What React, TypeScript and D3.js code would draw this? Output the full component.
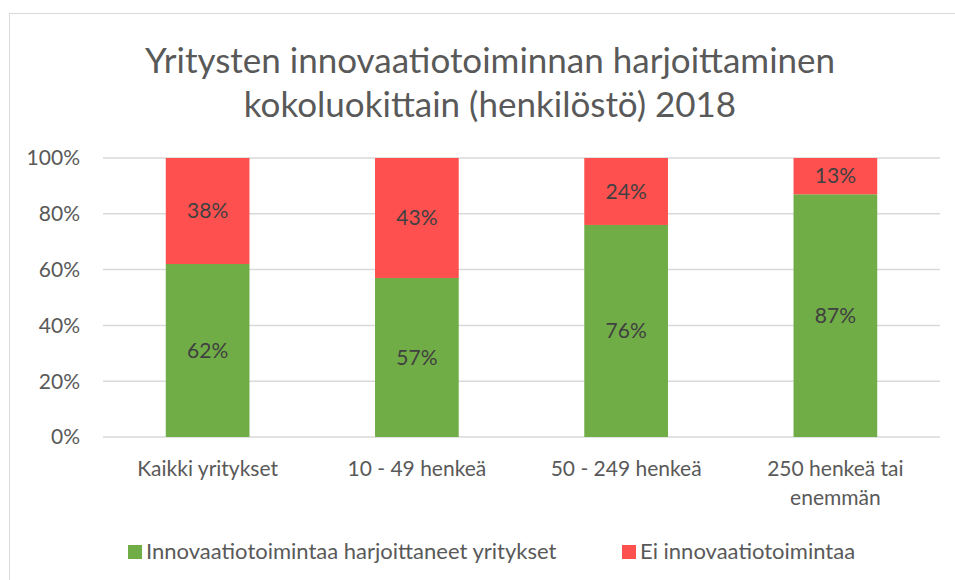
import React from "react";
import * as d3 from "d3";

const categories: string[][] = [
  ["Kaikki yritykset"],
  ["10 - 49 henkeä"],
  ["50 - 249 henkeä"],
  ["250 henkeä tai", "enemmän"],
];
const innovating = [62, 57, 76, 87];
const notInnovating = [38, 43, 24, 13];
const yTicks = [0, 20, 40, 60, 80, 100];
const titleLines = [
  "Yritysten innovaatiotoiminnan harjoittaminen",
  "kokoluokittain (henkilöstö) 2018",
];
const seriesNames = ["Innovaatiotoimintaa harjoittaneet yritykset", "Ei innovaatiotoimintaa"];
const colors = ["#70AD47", "#FF5050"];

const W = 955;
const H = 580;
const FONT = "Lato, 'Open Sans', sans-serif";

export default function App() {
  const x = d3
    .scaleBand<number>()
    .domain(d3.range(categories.length))
    .range([103, 940])
    .paddingInner(0.6)
    .paddingOuter(0.3);
  const y = d3.scaleLinear().domain([0, 100]).range([437, 158]);
  const series = [innovating, notInnovating];

  return (
    <svg
      width={W}
      height={H}
      style={{ position: "absolute", left: 0, top: 0, background: "#fff" }}
      fontFamily={FONT}
    >
      <rect x={9.5} y={13.5} width={W + 10} height={H + 10} fill="#fff" stroke="#d9d9d9" strokeWidth={1} />
      {titleLines.map((t, i) => (
        <text key={i} x={490} y={73 + i * 44} textAnchor="middle" fontSize={35} fill="#595959">
          {t}
        </text>
      ))}
      {yTicks.map((t) => (
        <g key={t}>
          <line x1={103} x2={940} y1={y(t)} y2={y(t)} stroke="#d9d9d9" strokeWidth={1.5} />
          <text x={80} y={y(t)} dy="0.35em" textAnchor="end" fontSize={21} fill="#595959">
            {t}%
          </text>
        </g>
      ))}
      {categories.map((c, i) => {
        let base = 0;
        return (
          <g key={i}>
            {series.map((s, j) => {
              const y0 = base;
              const y1 = base + s[i];
              base = y1;
              return (
                <g key={j}>
                  <rect
                    x={x(i)!}
                    width={x.bandwidth()}
                    y={y(y1)}
                    height={y(y0) - y(y1)}
                    fill={colors[j]}
                  />
                  <text
                    x={x(i)! + x.bandwidth() / 2}
                    y={(y(y0) + y(y1)) / 2}
                    dy="0.35em"
                    textAnchor="middle"
                    fontSize={21}
                    fill="#404040"
                  >
                    {s[i]}%
                  </text>
                </g>
              );
            })}
            {c.map((line, k) => (
              <text
                key={k}
                x={x(i)! + x.bandwidth() / 2}
                y={476 + k * 29}
                textAnchor="middle"
                fontSize={21}
                fill="#595959"
              >
                {line}
              </text>
            ))}
          </g>
        );
      })}
      {seriesNames.map((n, j) => {
        const lx = j === 0 ? 128 : 622;
        return (
          <g key={j}>
            <rect x={lx} y={545} width={14} height={14} fill={colors[j]} />
            <text x={lx + 18} y={559} fontSize={22} fill="#595959">
              {n}
            </text>
          </g>
        );
      })}
    </svg>
  );
}
